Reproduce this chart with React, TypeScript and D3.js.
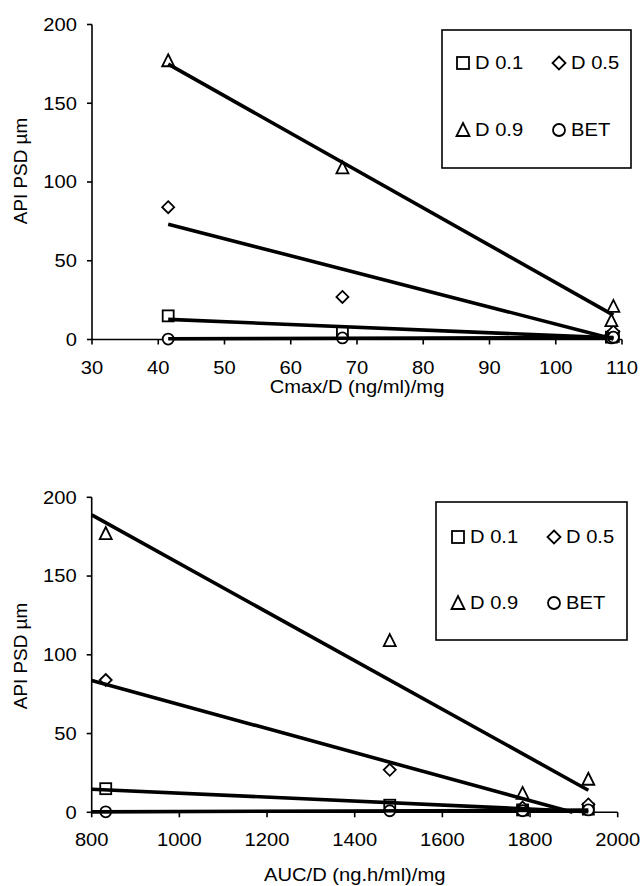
import React from "react";
import * as d3 from "d3";

// ---- Data ----
const cmaxD = [41.5, 67.8, 108.4, 108.7];
const aucD = [832, 1480, 1783, 1933];
const d01 = [15, 4.5, 1.5, 2];
const d05 = [84, 27, 3, 5];
const d09 = [177, 109, 12, 21];
const bet = [0.3, 1, 1, 1.5];

const seriesNames = ["D 0.1", "D 0.5", "D 0.9", "BET"];
const seriesShapes = ["square", "diamond", "triangle", "circle"];
const seriesValues = [d01, d05, d09, bet];

const xTicksTop = [30, 40, 50, 60, 70, 80, 90, 100, 110];
const xTicksBottom = [800, 1000, 1200, 1400, 1600, 1800, 2000];
const yTicks = [0, 50, 100, 150, 200];

const FONT = "'Liberation Sans', Arial, sans-serif";
const FS = 18;
const SX = 1.12;

function regression(xs: number[], ys: number[]) {
  const mx = d3.mean(xs)!;
  const my = d3.mean(ys)!;
  let sxy = 0, sxx = 0;
  xs.forEach((x, i) => {
    sxy += (x - mx) * (ys[i] - my);
    sxx += (x - mx) * (x - mx);
  });
  const b = sxy / sxx;
  const a = my - b * mx;
  return (x: number) => a + b * x;
}

function T({ x, y, anchor = "start", rotate = 0, dy, children }: any) {
  return (
    <g transform={`translate(${x},${y}) rotate(${rotate}) scale(${SX},1)`}>
      <text x={0} y={0} dy={dy} textAnchor={anchor}>
        {children}
      </text>
    </g>
  );
}

function Marker({ shape, cx, cy, s = 5.5 }: { shape: string; cx: number; cy: number; s?: number }) {
  const common = { fill: "white", stroke: "black", strokeWidth: 1.8 };
  if (shape === "square")
    return <rect x={cx - s} y={cy - s} width={2 * s} height={2 * s} {...common} />;
  if (shape === "diamond")
    return (
      <polygon
        points={`${cx},${cy - s - 0.5} ${cx + s + 0.5},${cy} ${cx},${cy + s + 0.5} ${cx - s - 0.5},${cy}`}
        {...common}
      />
    );
  if (shape === "triangle")
    return (
      <polygon
        points={`${cx},${cy - s - 1} ${cx + s + 0.5},${cy + s} ${cx - s - 0.5},${cy + s}`}
        {...common}
      />
    );
  return <circle cx={cx} cy={cy} r={s} {...common} />;
}

interface PanelProps {
  xs: number[];
  xDomain: [number, number];
  xRange: [number, number];
  yRange: [number, number];
  xTicks: number[];
  trendFrom: number | null;
  xTitle: string;
  xTitleY: number;
  xLabelY: number;
  yTitleY: number;
  legend: { x0: number; y0: number; x1: number; y1: number; col1: number; col2: number; row1: number; row2: number };
}

function Panel(p: PanelProps) {
  const x = d3.scaleLinear().domain(p.xDomain).range(p.xRange);
  const y = d3.scaleLinear().domain([0, 200]).range(p.yRange);
  const x0 = p.xRange[0];
  const yBase = p.yRange[0];
  const lineGen = d3
    .line<[number, number]>()
    .x((d) => x(d[0]))
    .y((d) => y(d[1]));

  const trends = seriesValues.map((vals) => {
    const f = regression(p.xs, vals);
    const start = p.trendFrom ?? d3.min(p.xs)!;
    const end = d3.max(p.xs)!;
    let endX = end;
    if (f(end) < 0) {
      const fa = f(start);
      const fb = f(end);
      endX = start + ((end - start) * fa) / (fa - fb);
    }
    return lineGen([
      [start, f(start)],
      [endX, Math.max(0, f(endX))],
    ])!;
  });

  const L = p.legend;
  const rows = [L.row1, L.row1, L.row2, L.row2];
  const cols = [L.col1, L.col2, L.col1, L.col2];

  return (
    <g fontFamily={FONT} fontSize={FS} fill="black">
      <line x1={x0} x2={x0} y1={p.yRange[1]} y2={yBase} stroke="black" strokeWidth={1.6} />
      <line x1={x0} x2={p.xRange[1]} y1={yBase} y2={yBase} stroke="black" strokeWidth={1.6} />
      {yTicks.map((t) => (
        <g key={"y" + t}>
          <line x1={x0 - 5} x2={x0} y1={y(t)} y2={y(t)} stroke="black" strokeWidth={1.6} />
          <T x={x0 - 15} y={y(t)} dy="0.35em" anchor="end">
            {t}
          </T>
        </g>
      ))}
      {p.xTicks.map((t) => (
        <g key={"x" + t}>
          <line x1={x(t)} x2={x(t)} y1={yBase} y2={yBase + 5} stroke="black" strokeWidth={1.6} />
          <T x={x(t)} y={p.xLabelY} anchor="middle">
            {t}
          </T>
        </g>
      ))}
      <T x={(p.xRange[0] + p.xRange[1]) / 2} y={p.xTitleY} anchor="middle">
        {p.xTitle}
      </T>
      <g transform={`translate(27,${p.yTitleY}) rotate(-90) scale(1.05,1)`}>
        <text textAnchor="middle">API PSD µm</text>
      </g>

      {seriesValues.map((vals, si) =>
        vals.map((v, i) => (
          <Marker key={si + "-" + i} shape={seriesShapes[si]} cx={x(p.xs[i])} cy={y(v)} />
        ))
      )}
      {trends.map((d, i) => (
        <path key={"t" + i} d={d} fill="none" stroke="black" strokeWidth={3.6} />
      ))}

      <rect x={L.x0} y={L.y0} width={L.x1 - L.x0} height={L.y1 - L.y0} fill="white" stroke="black" strokeWidth={1.6} />
      {seriesNames.map((n, i) => (
        <g key={"l" + i}>
          <Marker shape={seriesShapes[i]} cx={cols[i]} cy={rows[i]} s={6} />
          <T x={cols[i] + 12} y={rows[i]} dy="0.35em">
            {n}
          </T>
        </g>
      ))}
    </g>
  );
}

export default function App() {
  return (
    <svg
      width={642}
      height={886}
      style={{ position: "absolute", left: 0, top: 0, background: "white" }}
    >
      <rect width={642} height={886} fill="white" />
      <Panel
        xs={cmaxD}
        xDomain={[30, 110]}
        xRange={[92, 622]}
        yRange={[339.5, 24.5]}
        xTicks={xTicksTop}
        trendFrom={null}
        xTitle="Cmax/D (ng/ml)/mg"
        xTitleY={393}
        xLabelY={374}
        yTitleY={171}
        legend={{ x0: 442, y0: 30, x1: 631, y1: 168, col1: 463, col2: 559, row1: 63, row2: 130 }}
      />
      <Panel
        xs={aucD}
        xDomain={[800, 2000]}
        xRange={[91.7, 617.7]}
        yRange={[812.3, 497.3]}
        xTicks={xTicksBottom}
        trendFrom={800}
        xTitle="AUC/D (ng.h/ml)/mg"
        xTitleY={881}
        xLabelY={846}
        yTitleY={656}
        legend={{ x0: 436, y0: 502, x1: 627, y1: 640, col1: 458, col2: 554, row1: 537, row2: 603 }}
      />
    </svg>
  );
}
